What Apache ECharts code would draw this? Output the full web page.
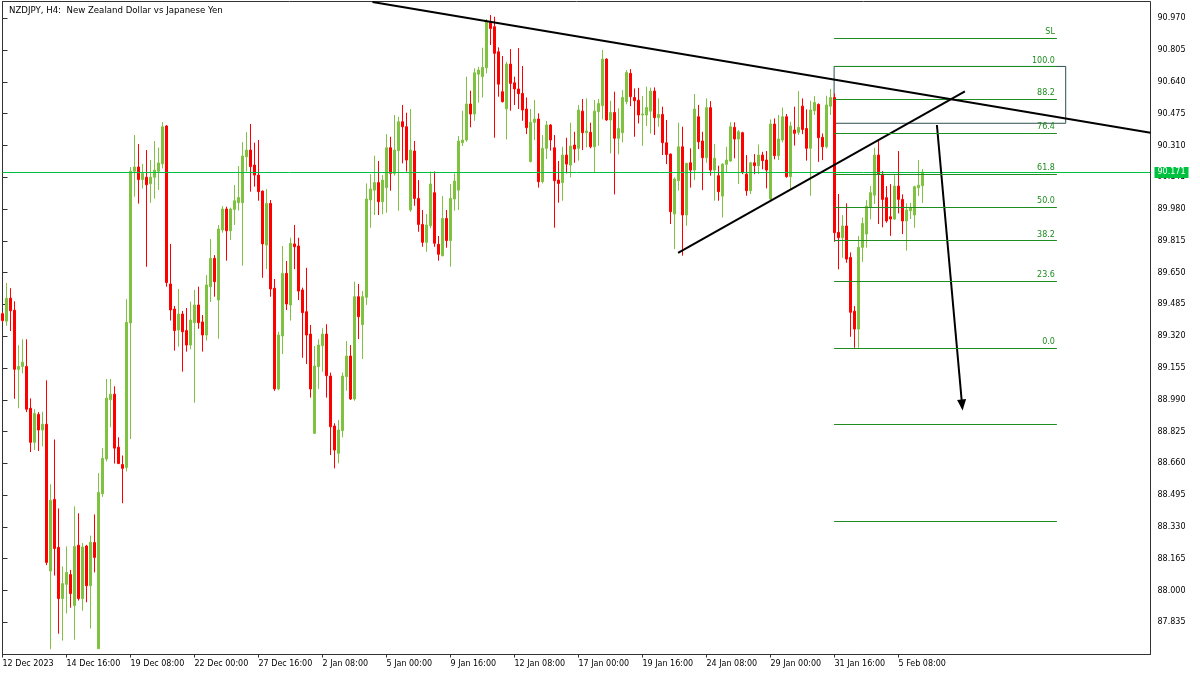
<!DOCTYPE html>
<html><head><meta charset="utf-8">
<script src="https://cdn.jsdelivr.net/npm/echarts@6/dist/echarts.min.js"></script>
<style>html,body{margin:0;padding:0;background:#fff}#c{width:1200px;height:675px}</style>
</head><body><div id="c"></div>
<script>
const opens = [89.437,89.398,89.517,89.455,89.148,89.163,89.163,88.946,88.769,88.914,
88.833,88.863,88.101,88.473,88.224,87.958,88.032,88.083,87.922,88.235,
87.958,88.231,88.025,88.249,87.698,88.502,88.683,88.990,89.019,88.744,
88.654,88.639,89.389,90.176,90.198,90.133,90.145,90.111,90.145,90.176,
90.214,90.411,89.591,89.461,89.352,89.435,89.349,89.274,89.390,89.482,
89.394,89.326,89.577,89.724,89.508,89.871,89.980,89.867,89.978,90.013,
90.013,90.251,90.286,90.208,90.156,90.073,89.793,90.009,89.569,89.046,
89.321,89.646,89.482,89.799,89.788,89.560,89.447,89.331,88.816,89.162,
89.271,89.331,89.113,88.854,88.712,88.830,89.110,89.217,88.994,89.525,
89.380,89.522,90.027,90.078,90.117,90.018,90.091,90.298,90.165,90.283,
90.433,90.407,89.975,90.281,90.035,89.900,89.807,89.893,90.065,89.797,
89.738,89.931,89.816,90.032,90.078,90.324,90.338,90.525,90.473,90.680,
90.667,90.713,90.948,90.926,90.796,90.589,90.500,90.732,90.635,90.603,
90.580,90.499,90.226,90.430,90.447,90.122,90.295,90.416,90.298,90.130,
90.117,90.260,90.208,90.312,90.295,90.488,90.376,90.378,90.303,90.485,
90.516,90.758,90.442,90.481,90.347,90.376,90.537,90.684,90.559,90.545,
90.468,90.468,90.488,90.592,90.454,90.471,90.324,90.265,89.954,90.127,
90.303,89.949,90.220,90.182,90.459,90.333,90.246,90.506,90.182,90.153,
90.047,90.212,90.229,90.404,90.343,90.376,90.161,90.075,90.220,90.205,
90.260,90.234,90.032,90.421,90.257,90.338,90.459,90.148,90.390,90.378,
90.514,90.398,90.295,90.490,90.523,90.352,90.303,90.514,90.559,89.859,
89.831,89.892,89.729,89.450,89.357,89.781,89.850,89.988,90.052,90.260,
90.160,90.039,89.940,89.928,90.099,90.030,89.918,89.971,89.949,90.090,
90.101];
const highs = [89.446,89.596,89.569,89.501,89.273,89.304,89.304,88.997,88.941,88.926,
88.928,89.091,88.551,88.784,88.426,88.125,88.229,88.107,88.437,88.401,
88.247,88.237,88.285,88.395,88.609,88.739,89.098,89.098,89.060,88.795,
88.701,89.512,90.198,90.364,90.317,90.214,90.286,90.234,90.333,90.299,
90.431,90.415,89.799,89.477,89.565,89.451,89.466,89.499,89.560,89.577,
89.430,89.637,89.824,89.741,89.897,89.995,89.992,89.987,90.104,90.203,
90.327,90.379,90.421,90.324,90.338,90.076,90.084,90.027,89.617,89.343,
89.788,89.710,89.831,89.897,89.831,89.572,89.675,89.378,89.269,89.304,
89.361,89.382,89.131,88.868,88.885,89.131,89.295,89.274,89.603,89.591,
89.554,90.113,90.161,90.257,90.229,90.156,90.369,90.355,90.468,90.459,
90.520,90.480,90.499,90.333,90.130,89.975,89.954,90.174,90.175,89.840,
90.047,89.975,90.110,90.165,90.359,90.490,90.667,90.594,90.710,90.718,
90.817,90.966,90.987,90.978,90.819,90.774,90.744,90.810,90.667,90.815,
90.722,90.559,90.499,90.546,90.476,90.364,90.437,90.421,90.364,90.229,
90.303,90.350,90.428,90.381,90.520,90.551,90.554,90.428,90.546,90.551,
90.805,90.762,90.542,90.589,90.502,90.597,90.701,90.706,90.606,90.609,
90.566,90.615,90.610,90.611,90.554,90.511,90.442,90.268,90.144,90.428,
90.407,90.220,90.295,90.577,90.520,90.381,90.554,90.540,90.317,90.205,
90.217,90.303,90.430,90.430,90.390,90.381,90.260,90.225,90.265,90.315,
90.277,90.281,90.445,90.450,90.468,90.507,90.473,90.433,90.511,90.592,
90.554,90.497,90.542,90.566,90.528,90.372,90.568,90.603,90.580,90.058,
89.949,90.009,89.755,89.476,89.840,89.935,90.026,90.099,90.298,90.341,
90.177,90.099,90.109,90.156,90.281,90.056,90.009,90.012,90.101,90.234,
90.187];
const lows = [89.392,89.374,89.347,88.995,88.946,89.127,88.926,88.719,88.730,88.724,
88.748,88.132,87.695,88.078,87.776,87.740,87.881,87.911,87.745,87.948,
87.895,87.939,87.803,88.094,87.698,88.486,88.670,88.847,88.659,88.656,
88.453,88.618,88.786,90.044,90.008,90.086,89.680,90.012,90.034,90.079,
90.191,89.577,89.401,89.245,89.266,89.136,89.240,89.252,88.975,89.359,
89.240,89.297,89.497,89.525,89.307,89.857,89.712,89.819,89.897,89.972,
89.686,90.174,90.070,90.096,90.023,89.623,89.668,89.525,89.036,89.040,
89.227,89.456,89.401,89.668,89.508,89.208,89.176,89.001,88.812,89.046,
89.136,89.001,88.703,88.634,88.660,88.795,89.037,88.989,88.985,89.305,
89.202,89.482,89.883,89.949,89.949,89.952,89.961,90.075,90.153,89.971,
90.217,90.174,89.966,89.997,89.862,89.784,89.758,89.880,89.784,89.712,
89.734,89.779,89.681,89.971,89.975,90.307,90.329,90.404,90.438,90.532,
90.559,90.684,90.831,90.350,90.563,90.533,90.341,90.490,90.520,90.499,
90.438,90.369,90.222,90.338,90.091,90.113,90.239,90.283,89.883,90.013,
90.023,90.165,90.144,90.220,90.231,90.286,90.300,90.295,90.170,90.308,
90.445,90.438,90.269,90.056,90.264,90.326,90.523,90.514,90.355,90.424,
90.308,90.411,90.372,90.364,90.407,90.260,90.213,89.902,89.772,90.075,
89.738,89.893,90.091,90.130,90.291,90.078,90.220,90.153,90.023,90.023,
89.936,90.168,90.225,90.243,90.110,90.161,90.049,90.058,90.161,90.161,
90.186,90.087,90.028,90.238,90.234,90.326,90.142,90.084,90.309,90.364,
90.369,90.231,90.049,90.468,90.225,90.234,90.295,90.468,89.810,89.667,
89.727,89.701,89.317,89.260,89.260,89.706,89.779,89.926,90.006,89.902,
89.885,89.909,89.841,89.923,89.957,89.850,89.764,89.928,89.883,90.047,
90.012];
const closes = [89.401,89.517,89.452,89.148,89.163,89.185,88.941,88.769,88.919,88.833,
88.863,88.146,88.468,88.218,87.958,88.036,88.094,87.984,88.229,87.958,
88.226,88.025,88.251,88.172,88.509,88.686,88.999,89.019,88.739,88.659,
88.634,89.392,90.176,90.198,90.133,90.164,90.106,90.145,90.182,90.219,
90.407,89.598,89.456,89.349,89.435,89.343,89.274,89.404,89.482,89.390,
89.326,89.586,89.724,89.603,89.876,89.980,89.867,89.980,90.023,90.040,
90.255,90.286,90.200,90.156,90.070,89.799,90.009,89.565,89.046,89.326,
89.646,89.487,89.802,89.784,89.554,89.442,89.326,89.046,89.165,89.274,
89.331,89.115,88.850,88.729,88.833,89.113,89.217,88.994,89.525,89.421,
89.525,90.032,90.084,90.117,90.018,90.130,90.298,90.165,90.286,90.433,
90.407,90.234,90.286,90.035,89.900,89.807,89.897,90.110,89.802,89.745,
89.931,89.816,90.035,90.125,90.333,90.338,90.525,90.473,90.687,90.701,
90.715,90.952,90.917,90.788,90.628,90.537,90.732,90.632,90.603,90.578,
90.494,90.402,90.430,90.447,90.122,90.295,90.416,90.338,90.127,90.113,
90.260,90.213,90.307,90.291,90.494,90.376,90.385,90.303,90.488,90.528,
90.758,90.442,90.481,90.347,90.398,90.559,90.689,90.563,90.542,90.468,
90.473,90.507,90.592,90.454,90.471,90.324,90.263,89.966,90.136,90.303,
89.949,90.217,90.182,90.499,90.329,90.246,90.506,90.182,90.243,90.070,
90.213,90.234,90.407,90.343,90.381,90.170,90.075,90.220,90.205,90.260,
90.231,90.182,90.421,90.257,90.343,90.459,90.148,90.411,90.373,90.404,
90.393,90.295,90.494,90.533,90.350,90.303,90.520,90.559,89.857,89.831,
89.892,89.720,89.444,89.357,89.781,89.905,89.995,90.065,90.260,90.161,
90.030,89.918,89.928,90.099,90.030,89.918,89.975,89.987,90.096,90.104,
90.171];

const xLabels = ['12 Dec 2023','14 Dec 16:00','19 Dec 08:00','22 Dec 00:00','27 Dec 16:00','2 Jan 08:00','5 Jan 00:00','9 Jan 16:00','12 Jan 08:00','17 Jan 00:00','19 Jan 16:00','24 Jan 08:00','29 Jan 00:00','31 Jan 16:00','5 Feb 08:00'];
const labelStep = 16;
const slotCount = 288;
const yTicks = [87.835,88.000,88.165,88.330,88.495,88.660,88.825,88.990,89.155,89.320,89.485,89.650,89.815,89.980,90.145,90.310,90.475,90.640,90.805,90.970];
const lastPrice = 90.171;

// drawings, in [bar index, price]
const resistanceLine = [[92.5, 91.054], [287, 90.376]];
const supportLine = [[168.9, 89.752], [240.6, 90.591]];
const arrowLine = [[233.6, 90.416], [239.9, 88.963]];
const fibNames = ['SL','100.0','88.2','76.4','61.8','50.0','38.2','23.6','0.0','',''];
const fibPrices = [90.867, 90.720, 90.549, 90.374, 90.162, 89.990, 89.817, 89.606, 89.257, 88.864, 88.361];
const fibSpan = [207.9, 263.6];
const fibBox = [[207.9, 90.720], [265.8, 90.425]];

const FONT = 'DejaVu Sans';
const FIB = '#1e8c1e';
const cats = Array.from({length: slotCount}, (_, i) => String(i));
const candles = opens.map((o, i) => [o, closes[i], lows[i], highs[i]]);
const showIdx = (i) => i % labelStep === 0 && (i / labelStep) < xLabels.length;

const blackStyle = {color: '#000', width: 2, type: 'solid'};
const mlData = [];
mlData.push([{coord: supportLine[0], lineStyle: blackStyle, symbol: 'none', label: {show: false}},
             {coord: supportLine[1], lineStyle: blackStyle, symbol: 'none'}]);
mlData.push([{coord: arrowLine[0], lineStyle: blackStyle, symbol: 'none', label: {show: false}},
             {coord: arrowLine[1], lineStyle: blackStyle, symbol: 'triangle', symbolSize: [9, 11]}]);
fibPrices.forEach((p, i) => {
  const ls = {color: FIB, width: 1, type: 'solid'};
  const lab = {show: fibNames[i] !== '', formatter: fibNames[i], position: 'insideEndTop', color: FIB,
               fontFamily: FONT, fontSize: 8, distance: [2, 2]};
  mlData.push([{coord: [fibSpan[0], p], lineStyle: ls, symbol: 'none', label: lab},
               {coord: [fibSpan[1], p], lineStyle: ls, symbol: 'none', label: lab}]);
});

const chart = echarts.init(document.getElementById('c'), null, {renderer: 'canvas', width: 1200, height: 675});
chart.setOption({
  animation: false,
  backgroundColor: '#fff',
  title: {text: 'NZDJPY, H4:  New Zealand Dollar vs Japanese Yen', left: 4, top: 1,
          textStyle: {fontFamily: FONT, fontSize: 8.6, fontWeight: 'normal', color: '#000'}},
  grid: {left: 2.5, right: 49.5, top: 1.5, bottom: 20.5, show: true, borderColor: '#333', borderWidth: 1,
         containLabel: false, outerBoundsMode: 'none'},
  xAxis: [
    {type: 'category', data: cats, boundaryGap: false,
     axisLine: {show: true, lineStyle: {color: '#333'}},
     axisTick: {show: true, interval: (i) => showIdx(i), length: 3, lineStyle: {color: '#333'}},
     axisLabel: {interval: (i) => showIdx(i), formatter: (v, i) => xLabels[i / labelStep] || '',
                 align: 'left', margin: 5, fontFamily: FONT, fontSize: 8, color: '#000'},
     splitLine: {show: false}},
    {type: 'value', min: 0, max: slotCount - 1, show: false}
  ],
  yAxis: {type: 'value', position: 'right', min: 87.668, max: 91.057, scale: true,
    axisLine: {show: true, lineStyle: {color: '#333'}},
    axisTick: {show: true, customValues: yTicks, length: 5, lineStyle: {color: '#333'}},
    axisLabel: {customValues: yTicks, formatter: (v) => Number(v).toFixed(3), margin: 7,
                fontFamily: FONT, fontSize: 8, color: '#000'},
    splitLine: {show: false}},
  series: [
    {type: 'candlestick', xAxisIndex: 0, yAxisIndex: 0, data: candles, barWidth: 2, clip: true,
     itemStyle: {color: '#7fc241', color0: '#ff0000', borderColor: '#7fc241', borderColor0: '#ff0000', borderWidth: 1},
     markLine: {silent: true, symbol: ['none', 'none'], animation: false, data: [{yAxis: lastPrice}],
       lineStyle: {color: '#00c040', width: 1, type: 'solid'},
       label: {show: true, position: 'end', formatter: lastPrice.toFixed(3), color: '#fff', backgroundColor: '#00c040',
               padding: [2, 3, 1, 3], fontFamily: FONT, fontSize: 8, distance: 4}}},
    {type: 'line', xAxisIndex: 1, yAxisIndex: 0, data: resistanceLine, symbol: 'none', silent: true, clip: true, z: 5,
     lineStyle: {color: '#000', width: 2},
     markLine: {silent: true, animation: false, symbol: ['none', 'none'], data: mlData},
     markArea: {silent: true, data: [[{coord: fibBox[0]}, {coord: fibBox[1]}]],
       itemStyle: {color: 'rgba(0,0,0,0)', borderColor: '#2f4f4f', borderWidth: 1}}}
  ]
});
</script></body></html>
